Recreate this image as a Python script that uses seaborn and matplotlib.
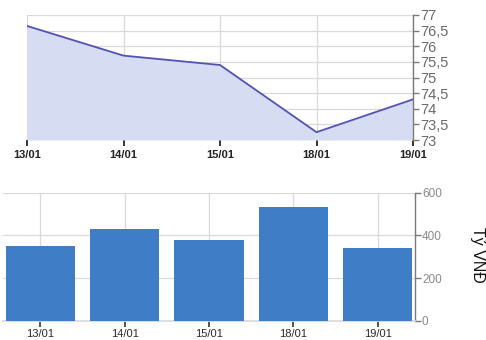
import matplotlib
matplotlib.use("Agg")
import matplotlib.pyplot as plt
from matplotlib.ticker import FuncFormatter, MultipleLocator
import seaborn as sns
import pandas as pd

dates = ["13/01", "14/01", "15/01", "18/01", "19/01"]
price = [76.65, 75.7, 75.4, 73.25, 74.3]
value_bn = [350, 430, 380, 535, 340]
value_label = "Tỷ VNĐ"

sns.set_theme(style="white")
plt.rcParams["font.family"] = ["Liberation Sans", "DejaVu Sans"]

grid_c = "#d9d9d9"
axis_c = "#7a7a7a"
tick_lbl_c = "#6a6a6a"

fig = plt.figure(figsize=(4.86, 3.40), dpi=100)
W, H = 486, 340

# ---- price area chart ----
ax1 = fig.add_axes([27 / W, 1 - 140 / H, 386 / W, 125 / H])
df1 = pd.DataFrame({"date": dates, "price": price, "x": range(len(dates))})
ax1.fill_between(df1["x"], df1["price"], 73, color="#d6ddf3", zorder=2, lw=0)
sns.lineplot(data=df1, x="x", y="price", ax=ax1, color="#5252b4", lw=1.3, zorder=3)
ax1.set_xlim(0, len(dates) - 1)
ax1.set_ylim(73, 77)
ax1.set_xticks(range(len(dates)))
ax1.set_xticklabels(dates)
ax1.yaxis.set_major_locator(MultipleLocator(0.5))
ax1.yaxis.set_major_formatter(
    FuncFormatter(lambda v, _: (f"{v:g}").replace(".", ",")))
ax1.yaxis.tick_right()
ax1.set_axisbelow(True)
ax1.grid(True, color=grid_c, lw=0.9)
for s in ["left", "top", "bottom"]:
    ax1.spines[s].set_visible(False)
ax1.spines["right"].set_color(axis_c)
ax1.spines["right"].set_linewidth(1.0)
ax1.tick_params(axis="y", which="major", direction="out", length=4, width=1,
                color=axis_c, labelcolor=tick_lbl_c, labelsize=10.5, pad=1)
ax1.tick_params(axis="x", direction="out", length=4, width=1.4, color="#333333",
                labelcolor="#222222", labelsize=8, pad=3, bottom=True)
for t in ax1.get_xticklabels():
    t.set_fontweight("bold")
ax1.set_xlabel("")
ax1.set_ylabel("")

# ---- trading value bar chart ----
ax2 = fig.add_axes([3 / W, 1 - 320.7 / H, 412 / W, 128 / H])
df2 = pd.DataFrame({"date": dates, "value": value_bn})
sns.barplot(data=df2, x="date", y="value", order=dates, ax=ax2,
            color="#3f7dc6", saturation=1, width=0.82, linewidth=0, zorder=3)
ax2.set_xlim(-0.44, len(dates) - 1 + 0.44)
ax2.set_ylim(0, 600)
ax2.set_yticks([0, 200, 400, 600])
ax2.yaxis.tick_right()
ax2.set_axisbelow(True)
ax2.grid(True, color=grid_c, lw=0.9)
for s in ["left", "top"]:
    ax2.spines[s].set_visible(False)
ax2.spines["bottom"].set_color(grid_c)
ax2.spines["right"].set_color(axis_c)
ax2.spines["right"].set_linewidth(1.0)
ax2.tick_params(axis="y", direction="out", length=4, width=1, color=axis_c,
                labelcolor="#8a8a8a", labelsize=8.5, pad=1)
ax2.tick_params(axis="x", direction="out", length=4, width=1.3, color="#444444",
                labelcolor="#2a2a2a", labelsize=8, pad=2, bottom=True)
ax2.set_xlabel("")
ax2.set_ylabel("")

fig.text(478 / W, 1 - 255 / H, value_label, rotation=270, ha="center",
         va="center", fontsize=11.5, color="#111111")

fig.savefig("out.png", dpi=100)
